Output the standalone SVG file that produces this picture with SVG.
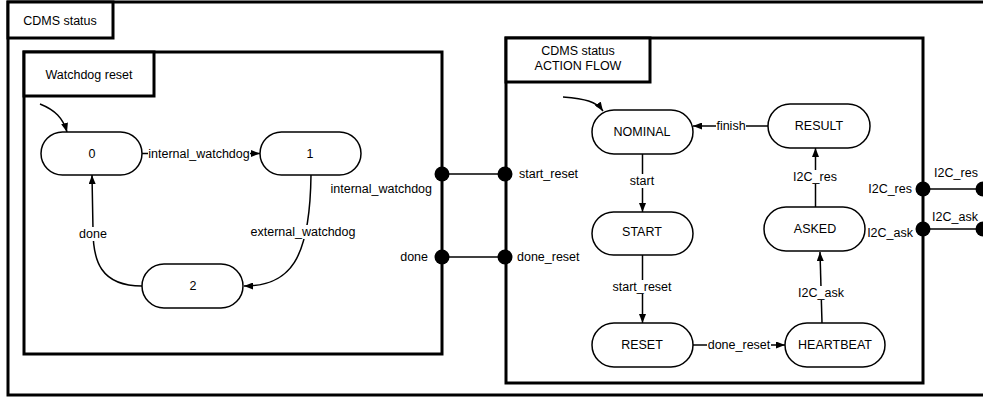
<svg xmlns="http://www.w3.org/2000/svg" width="983" height="398" viewBox="0 0 983 398">
<defs>
<marker id="arr" viewBox="0 0 9 7" refX="9" refY="3.5" markerWidth="9" markerHeight="7" markerUnits="userSpaceOnUse" orient="auto">
<path d="M0,0 L9,3.5 L0,7 z" fill="#000"/>
</marker>
</defs>
<style>
text{font-family:"Liberation Sans",Arial,sans-serif;font-size:12.5px;fill:#000}
.frame{fill:none;stroke:#000;stroke-width:3}
.lbox{fill:#fff;stroke:#000;stroke-width:3}
.node rect{fill:#fff;stroke:#000;stroke-width:1.5}
.node text{text-anchor:middle}
.edge{fill:none;stroke:#000;stroke-width:1.5}
.lbg{fill:#fff;stroke:none}
.el{text-anchor:middle}
.port{fill:#000}
.pl{text-anchor:end}
.mid{text-anchor:middle}
</style>
<rect width="983" height="398" fill="#fff"/>

<g id="frame-cdms">
<rect class="frame" x="8" y="2" width="990" height="393"/>
<rect class="lbox" x="8" y="2" width="105" height="36"/>
<text class="mid" x="60" y="25">CDMS status</text>
</g>

<g id="frame-watchdog">
<rect class="frame" x="24" y="52" width="418" height="302"/>
<rect class="lbox" x="24" y="52" width="130" height="44"/>
<text class="mid" x="89" y="79">Watchdog reset</text>
</g>

<g id="frame-action">
<rect class="frame" x="506" y="38" width="417" height="345"/>
<rect class="lbox" x="506" y="38" width="144" height="44"/>
<text class="mid" x="578" y="55">CDMS status</text>
<text class="mid" x="578" y="70">ACTION FLOW</text>
</g>

<g id="connectors">
<path class="edge" d="M40,104 C55,110 63,118 67,132" marker-end="url(#arr)"/>
<path class="edge" d="M142,153.5 L260,153.5" marker-end="url(#arr)"/>
<rect class="lbg" x="148" y="147" width="102" height="14"/>
<text class="el" x="199" y="158">internal_watchdog</text>
<path class="edge" d="M311,175 C310,260 290,286 244,286" marker-end="url(#arr)"/>
<rect class="lbg" x="250" y="225" width="106" height="14"/>
<text class="el" x="303" y="236">external_watchdog</text>
<path class="edge" d="M142,286 C100,286 93,260 93,230 L92,175" marker-end="url(#arr)"/>
<rect class="lbg" x="78" y="227" width="30" height="14"/>
<text class="el" x="93" y="238">done</text>

<path class="edge" d="M442,174 L506,174"/>
<path class="edge" d="M442,257 L506,257"/>
<path class="edge" d="M923,189 L983,189"/>
<path class="edge" d="M923,229 L983,229"/>

<path class="edge" d="M563,97 C585,99 596,101 603,111" marker-end="url(#arr)"/>
<path class="edge" d="M642.5,154 L642.5,212" marker-end="url(#arr)"/>
<rect class="lbg" x="629" y="174" width="26" height="14"/>
<text class="el" x="642" y="185">start</text>
<path class="edge" d="M642.5,255 L642.5,323" marker-end="url(#arr)"/>
<rect class="lbg" x="612" y="280" width="60" height="14"/>
<text class="el" x="642" y="291">start_reset</text>
<path class="edge" d="M693,345 L785,345" marker-end="url(#arr)"/>
<rect class="lbg" x="707" y="338" width="64" height="14"/>
<text class="el" x="739" y="349">done_reset</text>
<path class="edge" d="M822,323 L820,252" marker-end="url(#arr)"/>
<rect class="lbg" x="797" y="286" width="48" height="14"/>
<text class="el" x="821" y="297">I2C_ask</text>
<path class="edge" d="M815.5,207 L815.5,148" marker-end="url(#arr)"/>
<rect class="lbg" x="792" y="170" width="46" height="14"/>
<text class="el" x="815" y="181">I2C_res</text>
<path class="edge" d="M768,126 L693,126" marker-end="url(#arr)"/>
<rect class="lbg" x="716" y="119" width="30" height="14"/>
<text class="el" x="731" y="130">finish</text>
</g>

<g id="ports">
<circle class="port" cx="442" cy="174" r="7.5"/>
<text class="pl" x="432" y="193">internal_watchdog</text>
<circle class="port" cx="442" cy="257" r="7.5"/>
<text class="pl" x="428" y="261">done</text>
<circle class="port" cx="505" cy="174" r="7.5"/>
<text x="519" y="178">start_reset</text>
<circle class="port" cx="505" cy="257" r="7.5"/>
<text x="517" y="261">done_reset</text>
<circle class="port" cx="923" cy="189" r="7.5"/>
<text class="pl" x="912" y="193">I2C_res</text>
<circle class="port" cx="923" cy="229" r="7.5"/>
<text class="pl" x="913" y="237">I2C_ask</text>
<circle class="port" cx="983" cy="189" r="7.5"/>
<text class="mid" x="956" y="177">I2C_res</text>
<circle class="port" cx="983" cy="229" r="7.5"/>
<text class="mid" x="955" y="221">I2C_ask</text>
</g>

<g id="node-0" class="node"><rect x="41" y="132" width="101" height="43" rx="21.5"/><text x="92" y="158">0</text></g>
<g id="node-1" class="node"><rect x="260" y="132" width="101" height="43" rx="21.5"/><text x="310" y="158">1</text></g>
<g id="node-2" class="node"><rect x="142" y="264" width="101" height="44" rx="22"/><text x="193" y="290">2</text></g>

<g id="node-nominal" class="node"><rect x="592" y="110" width="101" height="44" rx="22"/><text x="642" y="136">NOMINAL</text></g>
<g id="node-result" class="node"><rect x="768" y="104" width="102" height="44" rx="22"/><text x="819" y="130">RESULT</text></g>
<g id="node-start" class="node"><rect x="592" y="212" width="101" height="43" rx="21.5"/><text x="642" y="236">START</text></g>
<g id="node-asked" class="node"><rect x="764" y="207" width="101" height="44" rx="22"/><text x="815" y="233">ASKED</text></g>
<g id="node-reset" class="node"><rect x="592" y="323" width="101" height="44" rx="22"/><text x="642" y="349">RESET</text></g>
<g id="node-heartbeat" class="node"><rect x="785" y="323" width="100" height="44" rx="22"/><text x="835" y="349">HEARTBEAT</text></g>
</svg>
